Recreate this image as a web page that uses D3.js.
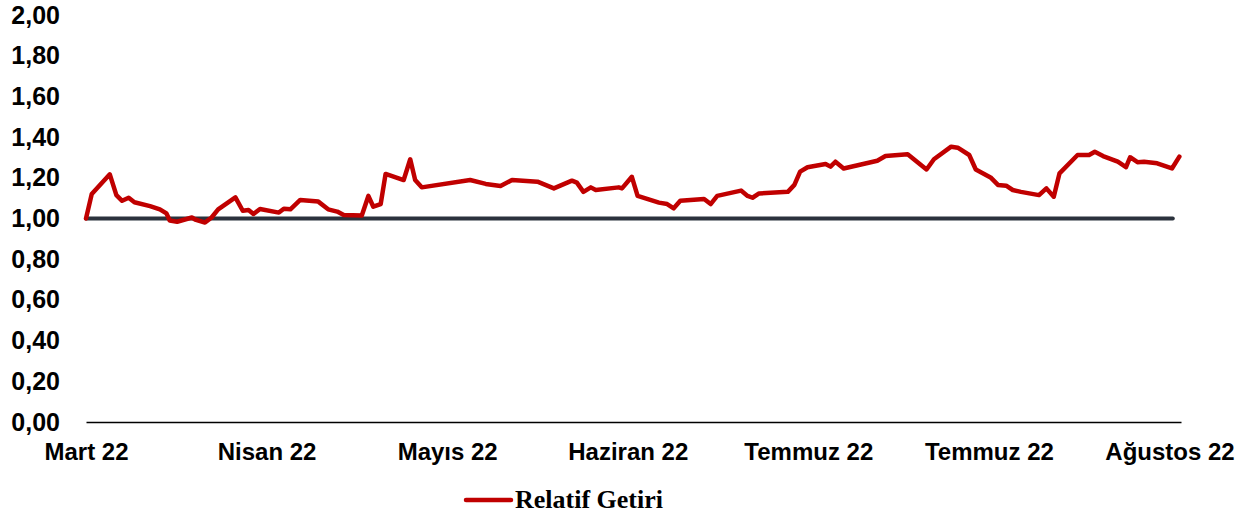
<!DOCTYPE html>
<html>
<head>
<meta charset="utf-8">
<script src="https://cdn.jsdelivr.net/npm/d3@7"></script>
<style>
  body { margin: 0; background: #fff; }
</style>
</head>
<body>
<div id="chart"></div>
<script>
// trading day index (0 = start of March) and relative return
const gun = [0,0.7,2.9,3.7,4.4,5.2,5.9,7.8,9.0,9.8,10.2,11.1,12.9,13.3,14.5,15.3,16.1,18.2,19.1,19.8,20.4,21.2,23.5,24.1,24.9,26.1,28.3,29.5,30.6,31.4,33.6,34.4,35.0,35.9,36.5,38.7,39.5,40.1,40.9,46.8,48.7,50.5,51.9,55.0,57.0,59.2,59.8,60.6,61.5,62.1,64.9,65.3,66.5,67.2,69.8,70.8,71.6,72.4,75.3,76.1,76.9,79.8,80.6,81.2,82.0,85.5,86.3,87.0,87.9,90.1,90.7,91.3,92.3,96.4,97.4,100.1,102.4,103.3,105.4,106.2,107.6,108.4,110.2,111.1,112.1,112.9,113.9,116.1,117.0,117.9,118.6,120.8,122.2,122.9,123.9,125.7,126.7,127.2,128.1,128.9,130.5,132.3,133.2];
const getiri = [1.00,1.12,1.217,1.115,1.087,1.102,1.08,1.061,1.045,1.025,0.99,0.984,1.005,0.995,0.98,1.005,1.045,1.104,1.038,1.042,1.022,1.047,1.029,1.048,1.045,1.091,1.083,1.045,1.034,1.017,1.015,1.111,1.058,1.071,1.219,1.189,1.291,1.189,1.153,1.189,1.170,1.160,1.189,1.181,1.148,1.186,1.176,1.131,1.153,1.140,1.153,1.148,1.205,1.111,1.078,1.071,1.050,1.087,1.096,1.071,1.111,1.137,1.111,1.102,1.123,1.131,1.165,1.230,1.252,1.268,1.255,1.279,1.246,1.284,1.307,1.316,1.241,1.291,1.353,1.348,1.312,1.241,1.202,1.165,1.161,1.140,1.131,1.115,1.148,1.107,1.222,1.312,1.312,1.328,1.307,1.279,1.252,1.301,1.277,1.279,1.271,1.246,1.304];

// benchmark level (flat 1,00)
const bazGun = [0, 132.4];
const bazDeger = [1, 1];

const ayTick = [0, 22, 44, 66, 88, 110, 132];
const ayEtiket = ['Mart 22', 'Nisan 22', 'Mayıs 22', 'Haziran 22', 'Temmuz 22', 'Temmuz 22', 'Ağustos 22'];
const yTick = [0, 0.2, 0.4, 0.6, 0.8, 1.0, 1.2, 1.4, 1.6, 1.8, 2.0];

const width = 1250, height = 516;

const svg = d3.select('#chart')
              .append('svg')
              .attr('width', width)
              .attr('height', height);

let scaleX = d3.scaleLinear().domain([0, 133.4]).range([86, 1181]);
let scaleY = d3.scaleLinear().domain([0, 2]).range([422, 15]);

const virgul = d3.formatLocale({decimal: ',', thousands: '.', grouping: [3], currency: ['', '']}).format('.2f');

let yAxis = d3.axisLeft(scaleY).tickValues(yTick).tickFormat(virgul).tickSize(0).tickPadding(0);
let xAxis = d3.axisBottom(scaleX).tickValues(ayTick).tickFormat((d, i) => ayEtiket[i]).tickSize(0).tickPadding(21);

let yAxisGroup = svg.append('g')
                    .attr('transform', 'translate(60,0)')
                    .call(yAxis);
yAxisGroup.select('.domain').remove();
yAxisGroup.selectAll('text')
          .style('font-family', '"Liberation Sans", Arial, sans-serif')
          .style('font-weight', 'bold')
          .style('font-size', '25px')
          .style('fill', '#000');

let xAxisGroup = svg.append('g')
                    .attr('transform', 'translate(0,' + scaleY(0) + ')')
                    .call(xAxis);
xAxisGroup.select('.domain')
          .attr('stroke', '#000')
          .attr('stroke-width', 1.5);
xAxisGroup.selectAll('text')
          .style('font-family', '"Liberation Sans", Arial, sans-serif')
          .style('font-weight', 'bold')
          .style('font-size', '24px')
          .style('fill', '#000');

let line = d3.line()
             .x(d => scaleX(d[0]))
             .y(d => scaleY(d[1]));

svg.append('path')
   .datum(bazGun.map((g, i) => [g, bazDeger[i]]))
   .attr('d', line)
   .attr('fill', 'none')
   .attr('stroke', '#2b323d')
   .attr('stroke-width', 4)
   .attr('stroke-linecap', 'round');

svg.append('path')
   .datum(gun.map((g, i) => [g, getiri[i]]))
   .attr('d', line)
   .attr('fill', 'none')
   .attr('stroke', '#c00000')
   .attr('stroke-width', 4.5)
   .attr('stroke-linejoin', 'round')
   .attr('stroke-linecap', 'round');

// legend
let legend = svg.append('g').attr('transform', 'translate(466,500)');
legend.append('line')
      .attr('x1', 0).attr('x2', 45)
      .attr('y1', 0).attr('y2', 0)
      .attr('stroke', '#c00000')
      .attr('stroke-width', 4.5)
      .attr('stroke-linecap', 'round');
legend.append('text')
      .attr('x', 49)
      .attr('y', 8)
      .style('font-family', '"Liberation Serif", "Times New Roman", serif')
      .style('font-weight', 'bold')
      .style('font-size', '26px')
      .style('fill', '#000')
      .text('Relatif Getiri');
</script>
</body>
</html>
